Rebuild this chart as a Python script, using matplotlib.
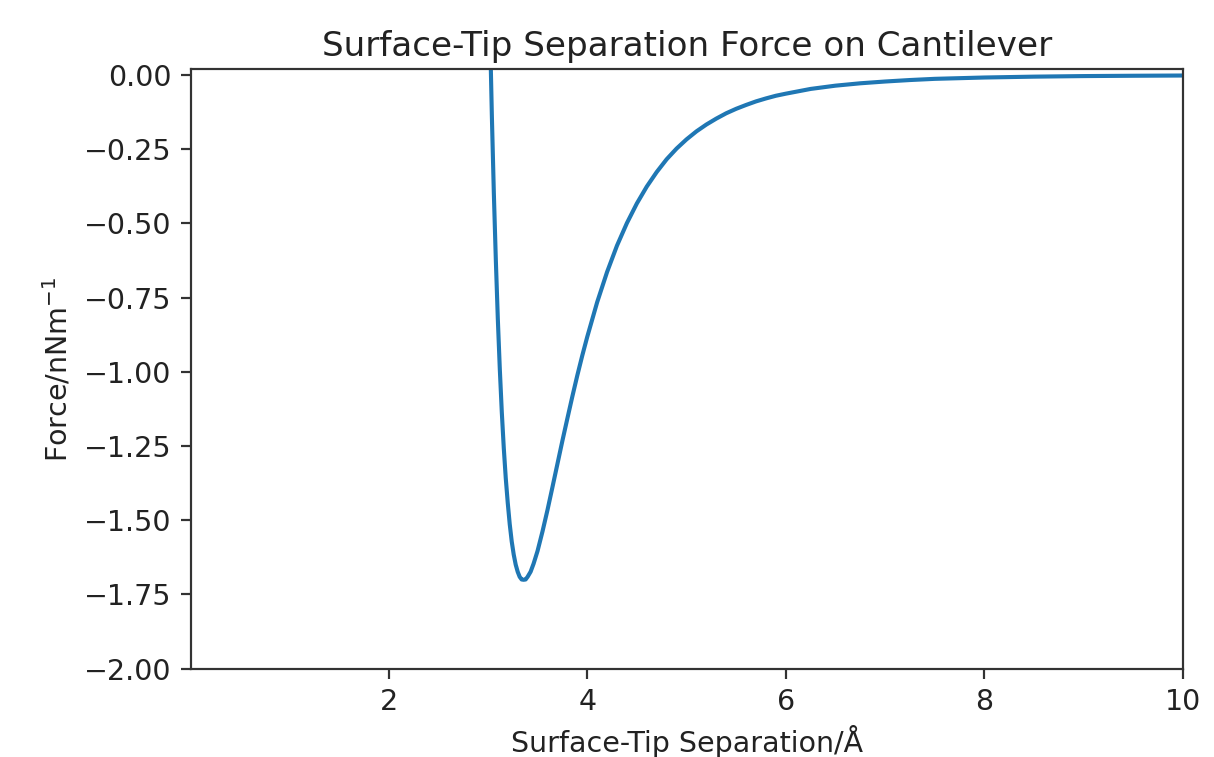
import matplotlib
matplotlib.use("Agg")
import matplotlib.pyplot as plt

# separation in Angstrom, force in nN/m
separation = [2.95, 3.00, 3.02, 3.04, 3.06, 3.08, 3.10, 3.12, 3.14, 3.16,
              3.18, 3.20, 3.22, 3.24, 3.26, 3.28, 3.30, 3.32, 3.34, 3.36,
              3.38, 3.40, 3.43, 3.46, 3.50, 3.55, 3.60, 3.65, 3.70, 3.75,
              3.80, 3.85, 3.90, 3.95, 4.00, 4.10, 4.20, 4.30, 4.40, 4.50,
              4.60, 4.70, 4.80, 4.90, 5.00, 5.10, 5.20, 5.30, 5.40, 5.50,
              5.60, 5.70, 5.80, 5.90, 6.00, 6.25, 6.50, 6.75, 7.00, 7.25,
              7.50, 8.00, 8.50, 9.00, 9.50, 10.0]
force = [1.61, 0.513, 0.167, -0.138, -0.399, -0.624, -0.822, -0.991, -1.136, -1.257,
         -1.359, -1.442, -1.514, -1.572, -1.616, -1.650, -1.674, -1.691, -1.700, -1.701,
         -1.700, -1.691, -1.674, -1.647, -1.604, -1.538, -1.466, -1.389, -1.311, -1.233,
         -1.158, -1.084, -1.013, -0.946, -0.883, -0.766, -0.664, -0.575, -0.499, -0.433,
         -0.376, -0.327, -0.284, -0.248, -0.217, -0.190, -0.167, -0.147, -0.129, -0.114,
         -0.101, -0.089, -0.079, -0.070, -0.063, -0.047, -0.036, -0.028, -0.022, -0.017,
         -0.013, -0.0085, -0.0056, -0.0037, -0.0026, -0.0018]

s = 1.97  # the reference was drawn at roughly twice the default resolution
fs = s * 1.04  # text looks a touch wider in the reference

fig = plt.figure(figsize=(12.14, 7.57), dpi=100)
ax = fig.add_axes([0.1573, 0.1169, 0.8172, 0.7913])
ax.plot(separation, force, color='#1f77b4', lw=1.5 * s)

ax.set_xlim(0.01, 10)
ax.set_ylim(-2.0, 0.0185)
ax.set_xticks([2, 4, 6, 8, 10])
ax.set_yticks([0.0, -0.25, -0.5, -0.75, -1.0, -1.25, -1.5, -1.75, -2.0])
ax.set_yticklabels(['0.00', '\u22120.25', '\u22120.50', '\u22120.75', '\u22121.00',
                    '\u22121.25', '\u22121.50', '\u22121.75', '\u22122.00'])

ax.tick_params(labelsize=10 * fs, length=3.5 * s, width=0.8 * s, pad=3.5 * s,
               labelcolor='#222222', color='#333333')
for sp in ax.spines.values():
    sp.set_linewidth(0.8 * s)
    sp.set_color('#333333')

ax.set_title('Surface-Tip Separation Force on Cantilever', fontsize=12 * fs,
             pad=5 * s, color='#222222')
ax.set_xlabel('Surface-Tip Separation/\u00c5', fontsize=10 * fs, labelpad=3.5 * s,
              color='#222222')
ax.set_ylabel('Force/nNm$^{-1}$', fontsize=10 * fs, labelpad=4 * s, color='#222222')

fig.savefig('out.png', dpi=100)
